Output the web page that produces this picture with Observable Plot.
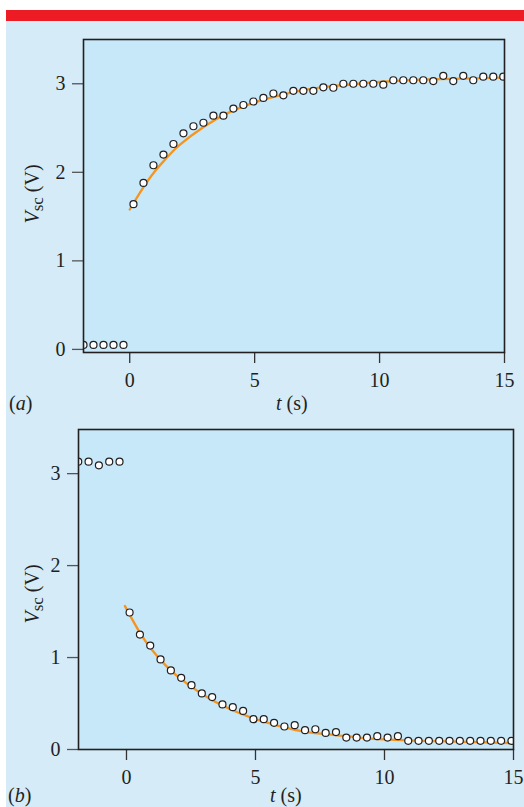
<!DOCTYPE html>
<html>
<head>
<meta charset="utf-8">
<script src="https://cdn.jsdelivr.net/npm/d3@7"></script>
<script src="https://cdn.jsdelivr.net/npm/@observablehq/plot@0.6"></script>
<style>
  body { margin: 0; background: #ffffff; }
  #wrap { position: relative; width: 524px; height: 807px; overflow: hidden; font-family: "Liberation Serif", "DejaVu Serif", serif; color: #231f20; }
  .abs { position: absolute; }
  .lbl { font-size: 20px; white-space: nowrap; line-height: 20px; }
  .ylab { font-size: 20px; white-space: nowrap; line-height: 20px; transform: rotate(-90deg); transform-origin: center center; }
  svg { overflow: visible; }
</style>
</head>
<body>
<div id="wrap">
  <div class="abs" style="left:6px;top:10px;width:518px;height:11px;background:#ed1c24;"></div>
  <div class="abs" style="left:6px;top:21px;width:518px;height:786px;background:#d5ebf8;"></div>
  <div id="pa" class="abs" style="left:0;top:0;"></div>
  <div id="pb" class="abs" style="left:0;top:400px;"></div>
  <div class="abs lbl" style="left:9px;top:393px;">(<i>a</i>)</div>
  <div class="abs lbl" style="left:276px;top:393px;"><i>t</i> (s)</div>
  <div class="abs lbl" style="left:8px;top:785px;">(<i>b</i>)</div>
  <div class="abs lbl" style="left:270px;top:785px;"><i>t</i> (s)</div>
  <div class="abs ylab" style="left:-7px;top:183px;width:80px;text-align:center;"><i>V</i><span style="font-size:17px;position:relative;top:4px;">sc</span> (V)</div>
  <div class="abs ylab" style="left:-7px;top:583px;width:80px;text-align:center;"><i>V</i><span style="font-size:17px;position:relative;top:4px;">sc</span> (V)</div>
</div>
<script>
// Panel (a): charging
const tA_pre = [-1.85, -1.45, -1.05, -0.65, -0.25];
const vA_pre = [0.05, 0.05, 0.05, 0.05, 0.05];
const tA = [0.15,0.55,0.95,1.35,1.75,2.15,2.55,2.95,3.35,3.75,4.15,4.55,4.95,5.35,5.75,6.15,6.55,6.95,7.35,7.75,8.15,8.55,8.95,9.35,9.75,10.15,10.55,10.95,11.35,11.75,12.15,12.55,12.95,13.35,13.75,14.15,14.55,14.95];
const vA = [1.64,1.88,2.08,2.20,2.32,2.44,2.52,2.56,2.64,2.64,2.72,2.76,2.80,2.84,2.89,2.87,2.92,2.92,2.92,2.96,2.955,3.00,3.00,3.00,3.00,2.99,3.04,3.04,3.04,3.04,3.03,3.09,3.03,3.09,3.04,3.08,3.08,3.08];
const fitA_t = [0, 0.5, 1, 1.5, 2, 3, 4, 5, 6, 7, 8, 10, 12, 15];
const fitA_v = [1.58, 1.81, 2.01, 2.17, 2.31, 2.52, 2.68, 2.79, 2.87, 2.93, 2.97, 3.02, 3.05, 3.07];

// Panel (b): discharging
const tB_pre = [-1.87, -1.47, -1.07, -0.67, -0.27];
const vB_pre = [3.13, 3.13, 3.09, 3.13, 3.13];
const tB = [0.12,0.52,0.92,1.32,1.72,2.12,2.52,2.92,3.32,3.72,4.12,4.52,4.92,5.32,5.72,6.12,6.52,6.92,7.32,7.72,8.12,8.52,8.92,9.32,9.72,10.12,10.52,10.92,11.32,11.72,12.12,12.52,12.92,13.32,13.72,14.12,14.52,14.92];
const vB = [1.49,1.25,1.13,0.98,0.86,0.78,0.70,0.61,0.57,0.49,0.46,0.42,0.33,0.33,0.29,0.25,0.265,0.21,0.22,0.18,0.19,0.13,0.13,0.13,0.145,0.13,0.145,0.094,0.094,0.094,0.094,0.094,0.094,0.094,0.094,0.094,0.094,0.094];
const fitB_t = [-0.06, 0.5, 1, 1.5, 2, 3, 4, 5, 6, 7, 8, 9, 10, 12, 15];
const fitB_v = [1.56, 1.28, 1.08, 0.92, 0.79, 0.59, 0.44, 0.33, 0.25, 0.19, 0.16, 0.13, 0.11, 0.09, 0.07];

const xTicks = [0, 5, 10, 15];
const yTicks = [0, 1, 2, 3];

function pts(ts, vs) { return ts.map((t, i) => ({t, v: vs[i]})); }

function panel({pre, main, fit, xDomain, yDomain, ml, mr, mt, height, mb}) {
  return Plot.plot({
    width: 524, height, marginLeft: ml, marginRight: mr, marginTop: mt, marginBottom: mb,
    style: {background: "transparent", fontFamily: "'Liberation Serif', serif", fontSize: "20px", color: "#231f20", overflow: "visible"},
    x: {domain: xDomain},
    y: {domain: yDomain},
    marks: [
      Plot.frame({fill: "#c6e8f8", stroke: null}),
      Plot.axisX({ticks: xTicks, tickSize: 11, tickPadding: 9, label: null, stroke: "#333", strokeWidth: 1.3, fontSize: 20, fill: "#231f20", tickFormat: d => String(d)}),
      Plot.axisY({ticks: yTicks, tickSize: 11, tickPadding: 7, label: null, stroke: "#555", strokeWidth: 1.3, fontSize: 20, fill: "#231f20", tickFormat: d => String(d)}),
      Plot.line(fit, {x: "t", y: "v", curve: "natural", stroke: "#f7941d", strokeWidth: 2.3, clip: true}),
      Plot.dot(pre.concat(main), {x: "t", y: "v", r: 3.5, fill: "white", stroke: "#231f20", strokeWidth: 1.2, clip: true}),
      Plot.frame({stroke: "#231f20", strokeWidth: 1.6})
    ]
  });
}

document.getElementById("pa").appendChild(panel({
  pre: pts(tA_pre, vA_pre), main: pts(tA, vA), fit: pts(fitA_t, fitA_v),
  xDomain: [-1.85, 15], yDomain: [-0.035, 3.5],
  ml: 83, mr: 20, mt: 39, height: 395, mb: 43
}));
document.getElementById("pb").appendChild(panel({
  pre: pts(tB_pre, vB_pre), main: pts(tB, vB), fit: pts(fitB_t, fitB_v),
  xDomain: [-1.86, 15], yDomain: [0, 3.48],
  ml: 78, mr: 11, mt: 29, height: 389, mb: 40
}));
</script>
</body>
</html>
